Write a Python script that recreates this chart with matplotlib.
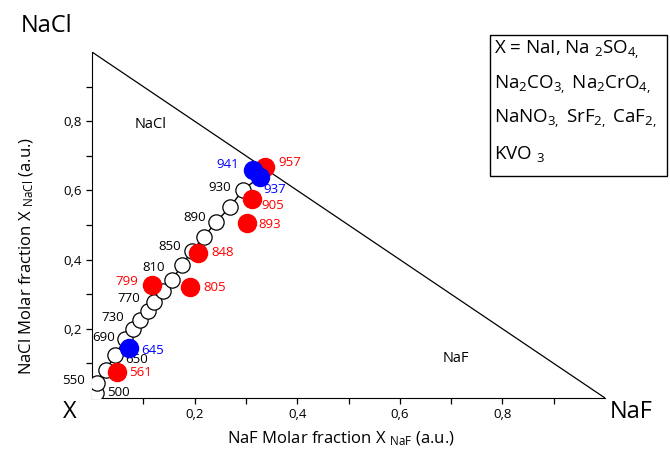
import numpy as np
import matplotlib.pyplot as plt
from matplotlib.patches import Rectangle

plt.rcParams['font.family'] = ['Open Sans', 'DejaVu Sans']
plt.rcParams['mathtext.fontset'] = 'custom'
plt.rcParams['mathtext.rm'] = 'Open Sans'
plt.rcParams['mathtext.it'] = 'Open Sans'

# open-circle chain (NaF fraction, NaCl fraction)
chain_x = [0.008, 0.010, 0.027, 0.045, 0.064, 0.080, 0.094, 0.109, 0.121,
           0.138, 0.156, 0.175, 0.195, 0.218, 0.242, 0.269, 0.294]
chain_y = [0.014, 0.043, 0.081, 0.124, 0.170, 0.199, 0.225, 0.251, 0.277,
           0.309, 0.341, 0.384, 0.425, 0.465, 0.509, 0.552, 0.601]
chain_temp = ['500', '550', '650', '670', '690', '710', '730', '750', '770',
              '790', '810', '830', '850', '870', '890', '910', '930']
chain_shown = ['500', '550', '650', '690', '730', '770', '810', '850', '890', '930']

red_x = [0.049, 0.117, 0.191, 0.207, 0.302, 0.312, 0.337]
red_y = [0.076, 0.327, 0.321, 0.419, 0.506, 0.575, 0.668]
red_temp = ['561', '799', '805', '848', '893', '905', '957']

blue_x = [0.072, 0.314, 0.327]
blue_y = [0.145, 0.659, 0.639]
blue_temp = ['645', '941', '937']

# label offsets in pixels
chain_off = {'500': (22, 1), '550': (-24, 3), '650': (31, 10), '690': (-21, 2),
             '730': (-27, 3), '770': (-25, 4), '810': (-18, 13), '850': (-22, 4),
             '890': (-21, 4), '930': (-23, 3)}
red_off = [(23, -1), (-25, 3), (25, -1), (24, 1), (23, -2), (21, -6), (25, 4)]
blue_off = [(24, -3), (-25, 5), (15, -13)]

fig = plt.figure(figsize=(6.7, 4.59), dpi=100)
ax = fig.add_axes([0.1373, 0.1329, 0.7657, 0.7538])

ax.plot([0, 1], [1, 0], color='black', lw=0.9)

ax.plot(chain_x + [blue_x[2]], chain_y + [blue_y[2]], color='black', lw=1.0, zorder=2)
ax.plot(chain_x, chain_y, 'o', ms=11, mfc='white', mec='black', mew=0.9, zorder=3)
ax.plot(red_x, red_y, 'o', ms=13, color='#ff0000', zorder=4)
ax.plot(blue_x, blue_y, 'o', ms=13, color='#0000ff', zorder=5)

for t, x, y in zip(chain_temp, chain_x, chain_y):
    if t in chain_shown:
        ax.annotate(t, (x, y), xytext=chain_off[t], textcoords='offset pixels',
                    ha='center', va='center', fontsize=9.5, color='black',
                    annotation_clip=False)
for t, x, y, o in zip(red_temp, red_x, red_y, red_off):
    ax.annotate(t, (x, y), xytext=o, textcoords='offset pixels',
                ha='center', va='center', fontsize=9.5, color='#ff0000')
for t, x, y, o in zip(blue_temp, blue_x, blue_y, blue_off):
    ax.annotate(t, (x, y), xytext=o, textcoords='offset pixels',
                ha='center', va='center', fontsize=9.5, color='#0000ff')

ax.text(0.115, 0.79, 'NaCl', fontsize=10.5, ha='center', va='center')
ax.text(0.709, 0.115, 'NaF', fontsize=10.5, ha='center', va='center')

ax.set_xlim(0, 1)
ax.set_ylim(0, 1)
ax.spines['top'].set_visible(False)
ax.spines['right'].set_visible(False)
ax.set_xticks([0.2, 0.4, 0.6, 0.8])
ax.set_yticks([0.2, 0.4, 0.6, 0.8])
ax.set_xticklabels(['0,2', '0,4', '0,6', '0,8'])
ax.set_yticklabels(['0,2', '0,4', '0,6', '0,8'])
ax.set_xticks([0.1, 0.3, 0.5, 0.7, 0.9], minor=True)
ax.set_yticks([0.1, 0.3, 0.5, 0.7, 0.9], minor=True)
ax.tick_params(which='both', direction='out', length=4, width=0.9, labelsize=9.5)

ax.set_xlabel(r'NaF Molar fraction X $_{\mathregular{NaF}}$ (a.u.)', fontsize=12)
ax.set_ylabel(r'NaCl Molar fraction X $_{\mathregular{NaCl}}$ (a.u.)', fontsize=12)
ax.xaxis.set_label_coords(0.485, -0.09)
ax.yaxis.set_label_coords(-0.11, 0.41)

fig.text(47 / 670, 1 - 26 / 459, 'NaCl', fontsize=17, ha='center', va='center')
fig.text(70 / 670, 1 - 412 / 459, 'X', fontsize=17, ha='center', va='center')
fig.text(631 / 670, 1 - 412 / 459, 'NaF', fontsize=17, ha='center', va='center')

fig.add_artist(Rectangle((490 / 670, 1 - 176 / 459), 177 / 670, 141 / 459,
                         transform=fig.transFigure, fill=False, lw=1.0, ec='black'))
legend_lines = [r'X = NaI, Na $_{2}$SO$_{4,}$',
                r'Na$_{2}$CO$_{3,}$ Na$_{2}$CrO$_{4,}$',
                r'NaNO$_{3,}$ SrF$_{2,}$ CaF$_{2,}$',
                r'KVO $_{3}$']
for i, line in enumerate(legend_lines):
    fig.text(494 / 670, 1 - (50 + 34.5 * i) / 459, line, fontsize=13.5,
             ha='left', va='center')

fig.savefig('out.png', dpi=100)
